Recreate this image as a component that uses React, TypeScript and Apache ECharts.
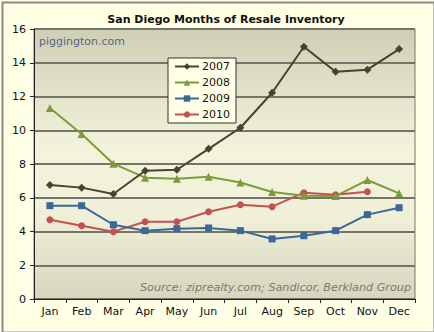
import React, { useEffect, useRef } from "react";
import * as echarts from "echarts";

const months = ["Jan", "Feb", "Mar", "Apr", "May", "Jun", "Jul", "Aug", "Sep", "Oct", "Nov", "Dec"];
const s2007 = [6.76, 6.6, 6.22, 7.6, 7.66, 8.9, 10.15, 12.22, 14.95, 13.47, 13.59, 14.81];
const s2008 = [11.32, 9.78, 8.02, 7.19, 7.13, 7.25, 6.9, 6.34, 6.12, 6.1, 7.05, 6.26];
const s2009 = [5.53, 5.53, 4.4, 4.05, 4.17, 4.21, 4.05, 3.56, 3.75, 4.05, 5.0, 5.41];
const s2010 = [4.7, 4.34, 3.99, 4.58, 4.58, 5.17, 5.59, 5.47, 6.3, 6.18, 6.36, null];
const seriesNames = ["2007", "2008", "2009", "2010"];
const seriesColors = ["#48432f", "#7c9c3c", "#3a6898", "#c25252"];
const seriesSymbols = ["diamond", "triangle", "rect", "circle"];

export default function App() {
  const ref = useRef<HTMLDivElement>(null);
  useEffect(() => {
    const chart = echarts.init(ref.current!, null, { renderer: "svg" });
    const data = [s2007, s2008, s2009, s2010];
    const font = "DejaVu Sans";
    chart.setOption({
      animation: false,
      backgroundColor: "#ffffe6",
      title: {
        text: "San Diego Months of Resale Inventory",
        left: 221,
        top: 9,
        textAlign: "center",
        textStyle: { fontFamily: font, fontSize: 11, fontWeight: "bold", color: "#111" },
      },
      legend: {
        orient: "vertical",
        left: 168,
        top: 58,
        width: 66,
        padding: [3, 6, 3, 6],
        itemGap: 5,
        itemWidth: 24,
        itemHeight: 8,
        backgroundColor: "#ffffe6",
        borderColor: "#333",
        borderWidth: 1,
        borderRadius: 0,
        textStyle: { fontFamily: font, fontSize: 11, color: "#111", padding: [0, 0, 0, -2] },
        data: seriesNames,
      },
      grid: {
        left: 34,
        right: 19,
        top: 29,
        bottom: 33,
        show: true,
        borderColor: "#77776a",
        borderWidth: 1,
        backgroundColor: new echarts.graphic.LinearGradient(0, 0, 0, 1, [
          { offset: 0, color: "#cfcfb6" },
          { offset: 0.45, color: "#f4f4dc" },
          { offset: 0.7, color: "#f0f0d8" },
          { offset: 1, color: "#d6d6be" },
        ]),
      },
      xAxis: {
        type: "category",
        data: months,
        boundaryGap: true,
        axisLine: { lineStyle: { color: "#222", width: 1 } },
        axisTick: { show: true, inside: false, length: 4, lineStyle: { color: "#222" } },
        axisLabel: { fontFamily: font, fontSize: 11, color: "#111", margin: 7 },
        splitLine: { show: false },
      },
      yAxis: {
        type: "value",
        min: 0,
        max: 16,
        interval: 2,
        axisLine: { show: true, lineStyle: { color: "#222", width: 1 } },
        axisTick: { show: true, length: 4, lineStyle: { color: "#222" } },
        axisLabel: { fontFamily: font, fontSize: 11, color: "#111", margin: 8 },
        splitLine: { show: true, lineStyle: { color: "#74746a", width: 2 } },
      },
      graphic: [
        {
          type: "text",
          left: 39,
          top: 36,
          style: { text: "piggington.com", fontFamily: font, fontSize: 11, fill: "#5e6288" },
        },
        {
          type: "text",
          right: 23,
          top: 282,
          style: {
            text: "Source: ziprealty.com; Sandicor, Berkland Group",
            fontFamily: font,
            fontSize: 11.2,
            fontStyle: "italic",
            fill: "#7a7a72",
          },
        },
        {
          type: "rect",
          left: 0,
          top: 0,
          shape: { width: 432, height: 330 },
          style: { fill: "none", stroke: "#8a8a8a", lineWidth: 2 },
          silent: true,
        },
      ],
      series: data.map((d, i) => ({
        name: seriesNames[i],
        type: "line",
        data: d,
        symbol: seriesSymbols[i],
        symbolSize: i === 0 ? 8 : i === 1 ? 8 : 7,
        showSymbol: true,
        lineStyle: { color: seriesColors[i], width: 2 },
        itemStyle: { color: seriesColors[i] },
        z: 5 - i,
      })),
    });
    return () => chart.dispose();
  }, []);
  return (
    <div
      ref={ref}
      style={{ position: "fixed", left: 0, top: 0, width: 434, height: 332 }}
    />
  );
}
